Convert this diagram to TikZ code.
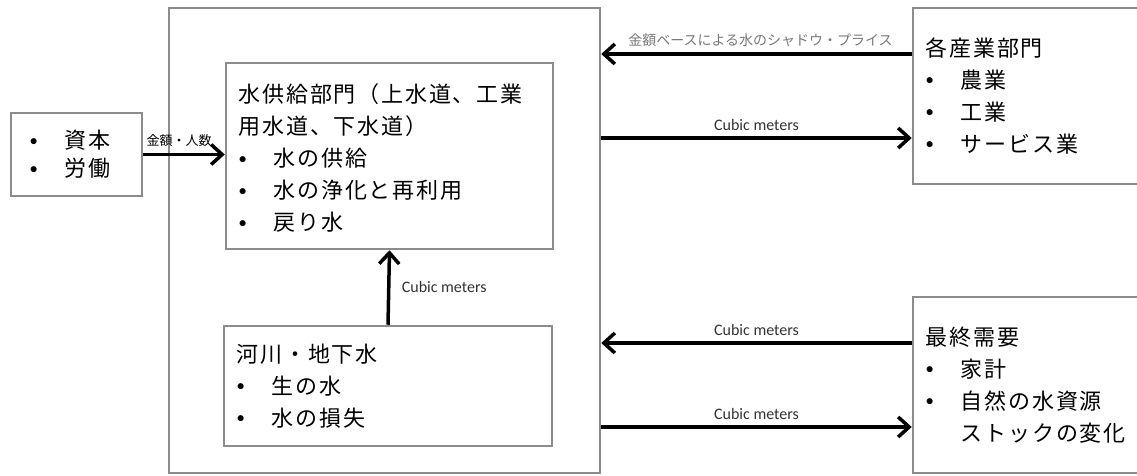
\documentclass[tikz,border=0pt]{standalone}
\usepackage{fontspec}
\usepackage{xcolor}
\usepackage{tikz}
\usetikzlibrary{positioning,calc,arrows.meta}
\newfontfamily\jpfont[LetterSpace=8]{Noto Sans CJK JP}
\newfontfamily\jpsmall{Noto Sans CJK JP}
\newfontfamily\cubicfont{Carlito}
\definecolor{boxgray}{RGB}{140,140,140}
\definecolor{pricegray}{RGB}{120,120,120}
\newcommand{\bul}{\makebox[35pt][l]{\raisebox{3.5pt}{\scalebox{0.75}{$\bullet$}}}}

\begin{document}
\begin{tikzpicture}[x=1pt,y=-1pt,
    box/.style={draw=boxgray, line width=2.5pt, fill=white, inner sep=0pt},
    txt/.style={inner sep=0pt, align=left, font=\jpfont\fontsize{22}{32}\selectfont},
    flow/.style={line width=3.5pt, -{Straight Barb[length=11pt,width=20pt]}},
    lbl/.style={font=\cubicfont\fontsize{16}{18}\selectfont, text=black!80},
    jplbl/.style={font=\jpsmall\fontsize{13}{15}\selectfont}]
    \useasboundingbox (0,0) rectangle (1137,476);
    \clip (0,0) rectangle (1137,476);

    % Boxes
    \node [box, minimum width=431pt, minimum height=465pt] (region) at (384.5,240.5) {};
    \node [box, minimum width=131pt, minimum height=83pt] (cap) at (76.5,154.5) {};
    \node [box, minimum width=327pt, minimum height=186pt] (supply) at (389.5,156) {};
    \node [box, minimum width=328pt, minimum height=120pt] (river) at (388,386) {};
    \node [box, minimum width=237pt, minimum height=176pt] (ind) at (1031.5,96) {};
    \node [box, minimum width=237pt, minimum height=176pt] (fin) at (1031.5,385) {};

    % Texts
    \node [txt, font=\jpfont\fontsize{22}{28}\selectfont, anchor=west] (captxt) at ([xshift=20pt]cap.west)
        {\bul 資本\\ \bul 労働};
    \node [txt, anchor=west] (supplytxt) at ([xshift=14pt,yshift=-2pt]supply.west)
        {水供給部門（上水道、工業\\用水道、下水道）\\ \bul 水の供給\\ \bul 水の浄化と再利用\\ \bul 戻り水};
    \node [txt, anchor=west] (rivertxt) at ([xshift=14pt]river.west)
        {河川・地下水\\ \bul 生の水\\ \bul 水の損失};
    \node [txt, anchor=west] (indtxt) at ([xshift=14pt]ind.west)
        {各産業部門\\ \bul 農業\\ \bul 工業\\ \bul サービス業};
    \node [txt, anchor=west] (fintxt) at ([xshift=14pt]fin.west)
        {最終需要\\ \bul 家計\\ \bul 自然の水資源\\ \hspace*{35pt}ストックの変化};

    % Flows
    \draw [flow] (cap.east) -- (cap.east -| supply.west)
        node [jplbl, midway, above=3pt, xshift=-5pt] {金額・人数};
    \draw [flow] ([yshift=42pt]ind.west) -- ([yshift=42pt]ind.west -| region.east)
        node [jplbl, font=\jpsmall\fontsize{14}{16}\selectfont, text=pricegray, midway, above=2pt, xshift=4pt] {金額ベースによる水のシャドウ・プライス};
    \draw [flow] ([yshift=-42pt]ind.west -| region.east) -- ([yshift=-42pt]ind.west)
        node [lbl, midway, above=2pt] {Cubic meters};
    \draw [flow] (river.north) -- (supply.south)
        node [lbl, midway, right=8pt] {Cubic meters};
    \draw [flow] ([yshift=42pt]fin.west) -- ([yshift=42pt]fin.west -| region.east)
        node [lbl, midway, above=2pt] {Cubic meters};
    \draw [flow] ([yshift=-42pt]fin.west -| region.east) -- ([yshift=-42pt]fin.west)
        node [lbl, midway, above=2pt] {Cubic meters};
\end{tikzpicture}
\end{document}
